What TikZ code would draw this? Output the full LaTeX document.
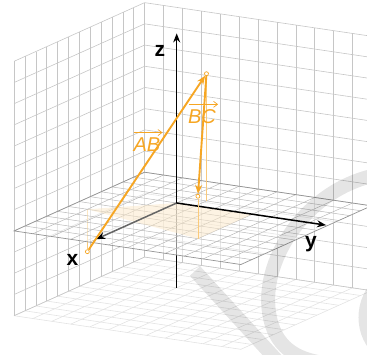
\documentclass[tikz,border=0pt]{standalone}
\usepackage{amsmath}
\usepackage{fontspec}
\setsansfont{Liberation Sans}
\usepackage{tikz}
\usetikzlibrary{arrows.meta}
\definecolor{vecorange}{HTML}{F6A623}
\tikzstyle{wall} = [draw=gray!45, line width=0.6pt]
\tikzstyle{floorgrid} = [draw=gray!22, line width=0.6pt]
\tikzstyle{planegrid} = [draw=gray!55, line width=0.5pt]
\tikzstyle{planeedge} = [draw=gray!85, line width=0.7pt]
\tikzstyle{axisline} = [line width=1.5pt, -{Stealth[length=9pt,width=7pt,color=black]}]
\tikzstyle{vec} = [draw=vecorange, line width=1.9pt, -{Stealth[length=9pt,width=7pt]}]
\tikzstyle{proj} = [draw=vecorange!60, line width=0.6pt]
\tikzstyle{pnt} = [circle, draw=vecorange, fill=white, inner sep=0pt, minimum size=4pt, line width=0.7pt]
\tikzstyle{axislabel} = [font=\sffamily\bfseries\fontsize{21}{21}\selectfont, text=black, inner sep=0pt]
\tikzstyle{veclabel} = [font=\sffamily\itshape\fontsize{20}{20}\selectfont, text=vecorange, inner sep=0pt]
\tikzstyle{overarrow} = [draw=vecorange, line width=0.7pt, -{Straight Barb[length=4pt,width=6pt]}]
\tikzstyle{watermark} = [draw=black, draw opacity=0.1, line width=14pt]

\begin{document}
\begin{tikzpicture}[x={(-10.88pt,-4.89pt)}, y={(18.9pt,-2.8pt)}, z={(0pt,21.2pt)}]
    \useasboundingbox (-176.7pt,-151pt) rectangle (190.3pt,203pt);
    \clip (-176.7pt,-151pt) rectangle (190.3pt,203pt);

    \coordinate (O) at (0,0,0);
    \coordinate (xtip) at (7.4,0,0);
    \coordinate (ytip) at (0,7.9,0);
    \coordinate (ztip) at (0,0,8);
    \coordinate (zbot) at (0,0,-4);
    \coordinate (pA) at (3,-3,0);
    \coordinate (pB) at (-1,1,0);
    \coordinate (pC) at (5,4,0);

    \foreach \i in {-4,...,8} {
        \draw[floorgrid] (\i,-4,-4) -- (\i,8,-4);
        \draw[floorgrid] (-4,\i,-4) -- (8,\i,-4);
    }
    \foreach \i in {-4,...,8} {
        \draw[wall] (\i,-4,-4) -- (\i,-4,8);
        \draw[wall] (-4,-4,\i) -- (8,-4,\i);
        \draw[wall] (-4,\i,-4) -- (-4,\i,8);
        \draw[wall] (-4,-4,\i) -- (-4,8,\i);
    }

    \draw[line width=1.5pt] (zbot) -- (O);
    \node[pnt] (A) at (3,-3,-2) {};
    \draw[proj] (A) -- (pA);

    \fill[white, opacity=0.55] (-4,-4,0) -- (8,-4,0) -- (8,8,0) -- (-4,8,0) -- cycle;
    \foreach \i in {-3,...,7} {
        \draw[planegrid] (\i,-4,0) -- (\i,8,0);
        \draw[planegrid] (-4,\i,0) -- (8,\i,0);
    }
    \draw[planeedge] (-4,-4,0) -- (8,-4,0) -- (8,8,0) -- (-4,8,0) -- cycle;
    \fill[vecorange!25, opacity=0.5] (pA) -- (O) -- (0,4,0) -- (pC) -- cycle;

    \draw[axisline, draw=black!60] (O) -- (xtip);
    \draw[axisline] (O) -- (ytip);
    \draw[axisline] (O) -- (ztip);

    \node[pnt] (B) at (-1,1,6) {};
    \node[pnt] (C) at (5,4,2) {};
    \draw[proj] (B) -- (pB);
    \draw[proj] (C) -- (pC);
    \draw[vec] (A) -- (B);
    \draw[vec] (B) -- (C);

    \begin{scope}[shift={(-176.7pt,203pt)}, x=1pt, y=-1pt]
        \node[axislabel, anchor=base] (zlab) at (160,56.5) {z};
        \node[axislabel, anchor=base] (xlab) at (72.5,265) {x};
        \node[axislabel, anchor=base] (ylab) at (311,247.5) {y};
        \node[veclabel, anchor=base] (ablab) at (147,151) {AB};
        \node[veclabel, anchor=base] (bclab) at (202,123) {BC};
        \draw[overarrow] ([xshift=1pt,yshift=4.5pt]ablab.north west) -- ([xshift=2pt,yshift=4.5pt]ablab.north east);
        \draw[overarrow] ([xshift=1pt,yshift=4.5pt]bclab.north west) -- ([xshift=2pt,yshift=4.5pt]bclab.north east);

        \draw[watermark] (195,271) -- (282,366);
        \draw[watermark] (372,176) .. controls (305,192) and (258,262) .. (270,318) .. controls (277,350) and (300,362) .. (335,364);
        \draw[watermark] (382,282) .. controls (360,300) and (360,335) .. (382,352);
    \end{scope}
\end{tikzpicture}
\end{document}
